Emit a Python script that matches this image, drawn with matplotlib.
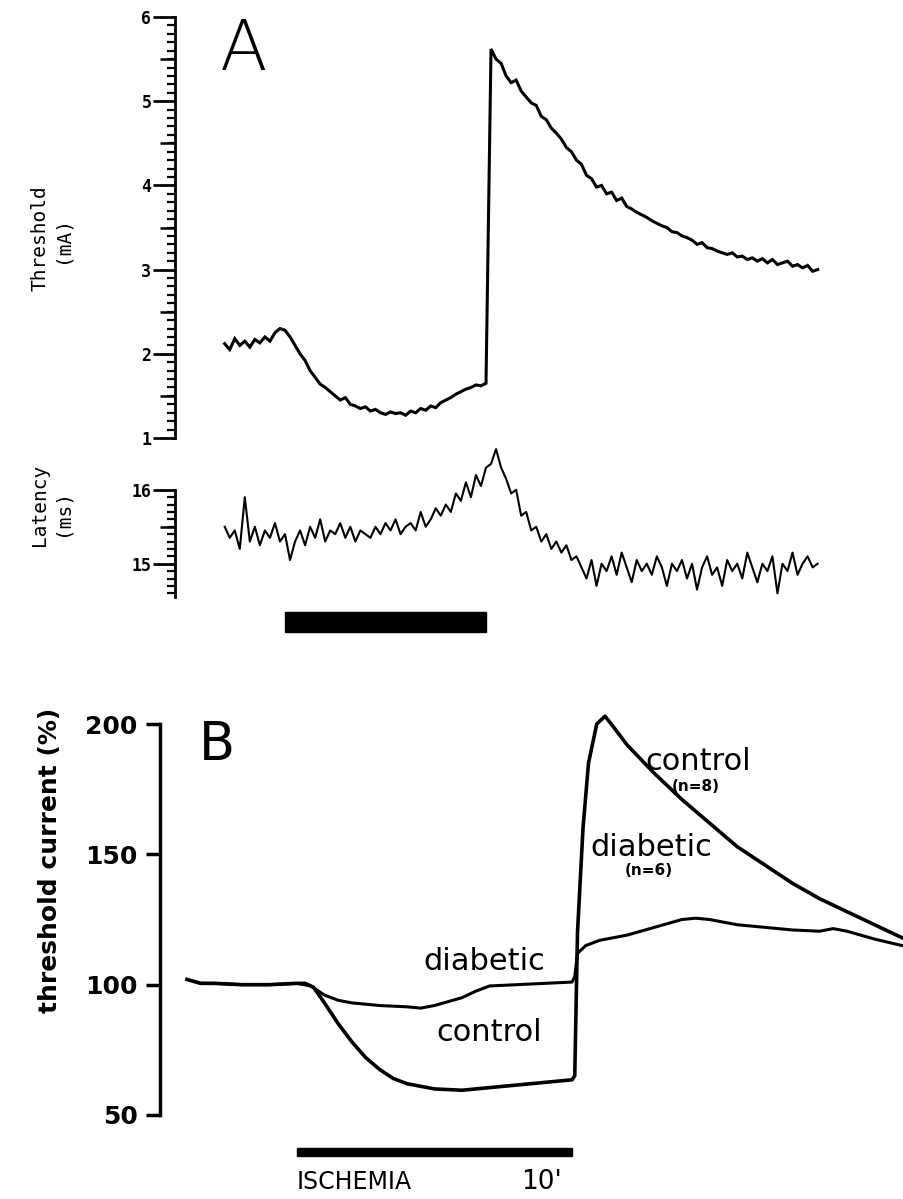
import numpy as np
import matplotlib
matplotlib.use("Agg")
import matplotlib.pyplot as plt
from matplotlib.patches import Rectangle
from matplotlib.ticker import MultipleLocator, FixedLocator

# ---------------- Panel A data (time in min, ischemia 0-10 min) ----------------
threshold_mA = [
    2.12, 2.05, 2.18, 2.10, 2.15, 2.08, 2.17, 2.13, 2.20, 2.15, 2.25, 2.30, 2.28,
    2.20, 2.10, 2.00, 1.92, 1.80, 1.72, 1.64, 1.60,
    1.55, 1.50, 1.45, 1.48, 1.40, 1.38, 1.35, 1.37,
    1.32, 1.34, 1.30, 1.28, 1.31, 1.29, 1.30, 1.27,
    1.32, 1.30, 1.35, 1.33, 1.38, 1.36, 1.42, 1.45,
    1.48, 1.52, 1.55, 1.58, 1.60, 1.63, 1.62, 1.65,
    5.62, 5.50, 5.45, 5.30, 5.22, 5.25, 5.12, 5.05,
    4.98, 4.95, 4.82, 4.78, 4.68, 4.62, 4.55, 4.45,
    4.40, 4.30, 4.25, 4.12, 4.08, 3.98, 4.00, 3.90,
    3.92, 3.82, 3.85, 3.75, 3.72, 3.68, 3.65, 3.62,
    3.58, 3.55, 3.52, 3.50, 3.45, 3.44, 3.40, 3.38,
    3.35, 3.30, 3.32, 3.26, 3.25, 3.22, 3.20, 3.18,
    3.20, 3.15, 3.16, 3.12, 3.14, 3.10, 3.13, 3.08,
    3.12, 3.06, 3.08, 3.10, 3.04, 3.06, 3.02, 3.05,
    2.98, 3.00,
]
latency_ms = [
    15.50, 15.35, 15.45, 15.20, 15.90, 15.30, 15.50, 15.25, 15.45, 15.35, 15.55, 15.30, 15.40,
    15.05, 15.30, 15.45, 15.25, 15.50, 15.35, 15.60, 15.30,
    15.45, 15.40, 15.55, 15.35, 15.50, 15.30, 15.45, 15.40,
    15.35, 15.50, 15.40, 15.55, 15.45, 15.60, 15.40, 15.50,
    15.55, 15.45, 15.70, 15.50, 15.60, 15.75, 15.65, 15.80,
    15.70, 15.95, 15.85, 16.10, 15.90, 16.20, 16.05, 16.30,
    16.35, 16.55, 16.30, 16.15, 15.95, 16.00, 15.65, 15.70,
    15.45, 15.50, 15.30, 15.40, 15.20, 15.30, 15.15, 15.25,
    15.05, 15.10, 14.95, 14.80, 15.05, 14.70, 15.00, 14.90,
    15.10, 14.85, 15.15, 14.95, 14.75, 15.05, 14.90, 15.00,
    14.85, 15.10, 14.95, 14.70, 15.00, 14.90, 15.05, 14.80,
    15.00, 14.65, 14.95, 15.10, 14.85, 14.95, 14.70, 15.05,
    14.90, 15.00, 14.80, 15.15, 14.95, 14.75, 15.00, 14.90,
    15.10, 14.60, 15.00, 14.90, 15.15, 14.85, 15.00, 15.10,
    14.95, 15.00,
]
time_A = np.linspace(-3.0, 26.5, len(threshold_mA))

# ---------------- Panel B data ----------------
time_control = [-4.0, -3.5, -3.0, -2.0, -1.0, 0.0, 0.3, 0.6, 1.0, 1.5, 2.0, 2.5,
                3.0, 3.5, 4.0, 5.0, 6.0, 7.0, 8.0, 9.0, 10.0, 10.1, 10.2, 10.4,
                10.6, 10.9, 11.2, 11.5, 12.0, 13.0, 14.0, 15.0, 16.0, 17.0, 18.0,
                19.0, 20.0, 21.0, 22.0]
control_pct = [102, 100.5, 100.5, 100, 100, 100.5, 100.5, 99, 93, 85, 78, 72,
               67.5, 64, 62, 60, 59.5, 60.5, 61.5, 62.5, 63.5, 65, 120, 160,
               185, 200, 203, 199, 192, 181, 171, 162, 153, 146, 139,
               133, 128, 123, 118]
time_diabetic = [-4.0, -3.5, -3.0, -2.0, -1.0, 0.0, 0.5, 1.0, 1.5, 2.0, 3.0, 4.0,
                 4.5, 5.0, 6.0, 6.5, 7.0, 8.0, 9.0, 10.0, 10.1, 10.2, 10.5, 11.0,
                 12.0, 13.0, 13.5, 14.0, 14.5, 15.0, 16.0, 17.0, 18.0, 19.0, 19.5,
                 20.0, 21.0, 22.0]
diabetic_pct = [102, 100.5, 100.5, 100, 100, 100.5, 99.5, 96, 94, 93, 92, 91.5,
                91, 92, 95, 97.5, 99.5, 100, 100.5, 101, 103, 112, 115, 117,
                119, 122, 123.5, 125, 125.5, 125, 123, 122, 121, 120.5, 121.5,
                120.5, 117.5, 115]
ischemia_min = (0.0, 10.0)

W, H = 904, 1199
fig = plt.figure(figsize=(W / 100, H / 100), dpi=100)

def rect(l, t, r, b):
    return [l / W, 1 - b / H, (r - l) / W, (b - t) / H]

mono = "DejaVu Sans Mono"

# ---------- Panel A: threshold ----------
tA_left = (175 - 285) / 20.1
tA_right = (830 - 285) / 20.1
axT = fig.add_axes(rect(175, 17, 830, 438))
axT.patch.set_alpha(0)
axT.plot(time_A, threshold_mA, color="black", lw=2.2, solid_joinstyle="miter")
axT.set_xlim(tA_left, tA_right)
axT.set_ylim(1, 6)
for s in ["top", "right", "bottom"]:
    axT.spines[s].set_visible(False)
axT.spines["left"].set_linewidth(2)
axT.set_xticks([])
axT.yaxis.set_major_locator(MultipleLocator(1))
axT.yaxis.set_minor_locator(MultipleLocator(0.1))
axT.tick_params(axis="y", which="major", length=16, width=2, direction="out", pad=1,
                labelsize=12)
axT.tick_params(axis="y", which="minor", length=6, width=1.6, direction="out")
for lab in axT.get_yticklabels():
    lab.set_fontfamily(mono)
    lab.set_fontweight("bold")
secT = axT.secondary_yaxis("left")
secT.spines["left"].set_visible(False)
secT.yaxis.set_major_locator(FixedLocator([1.5, 2.5, 3.5, 4.5, 5.5]))
secT.tick_params(axis="y", length=11, width=1.8, labelleft=False)

# ---------- Panel A: latency ----------
axL = fig.add_axes(rect(175, 438, 830, 597))
axL.patch.set_alpha(0)
axL.plot(time_A, latency_ms, color="black", lw=1.5, clip_on=False)
axL.set_xlim(tA_left, tA_right)
axL.set_ylim(14.55, 16.7)
for s in ["top", "right", "bottom"]:
    axL.spines[s].set_visible(False)
axL.spines["left"].set_linewidth(2)
axL.spines["left"].set_bounds(14.55, 16)
axL.set_xticks([])
axL.yaxis.set_major_locator(FixedLocator([15, 16]))
axL.yaxis.set_minor_locator(FixedLocator([v / 10 for v in range(146, 160)]))
axL.tick_params(axis="y", which="major", length=16, width=2, direction="out", pad=1,
                labelsize=12)
axL.tick_params(axis="y", which="minor", length=6, width=1.6, direction="out")
for lab in axL.get_yticklabels():
    lab.set_fontfamily(mono)
    lab.set_fontweight("bold")
secL = axL.secondary_yaxis("left")
secL.spines["left"].set_visible(False)
secL.yaxis.set_major_locator(FixedLocator([15.5]))
secL.tick_params(axis="y", length=11, width=1.8, labelleft=False)
axL.add_patch(Rectangle((ischemia_min[0], 14.08), ischemia_min[1] - ischemia_min[0], 0.27,
                        color="black", clip_on=False))

fig.text(244 / W, 1 - 70 / H, "A", fontsize=50, ha="center", va="baseline",
         fontweight="light")
fig.text(40 / W, 1 - 238 / H, "Threshold", rotation=90, ha="center", va="center",
         fontsize=14, family=mono)
fig.text(62 / W, 1 - 240 / H, "(mA)", rotation=90, ha="center", va="center",
         fontsize=14, family=mono)
fig.text(40 / W, 1 - 505 / H, "Latency", rotation=90, ha="center", va="center",
         fontsize=14, family=mono)
fig.text(62 / W, 1 - 512 / H, "(ms)", rotation=90, ha="center", va="center",
         fontsize=14, family=mono)

# ---------- Panel B ----------
axB = fig.add_axes(rect(160, 724, 904, 1115))
axB.patch.set_alpha(0)
axB.plot(time_control, control_pct, color="black", lw=2.6, clip_on=False)
axB.plot(time_diabetic, diabetic_pct, color="black", lw=2.2, clip_on=False)
axB.set_xlim((160 - 297) / 27.5, (904 - 297) / 27.5)
axB.set_ylim(50, 200)
for s in ["top", "right", "bottom"]:
    axB.spines[s].set_visible(False)
axB.spines["left"].set_linewidth(2.5)
axB.set_xticks([])
axB.set_yticks([50, 100, 150, 200])
axB.tick_params(axis="y", length=10, width=2.5, direction="out", pad=6, labelsize=18)
for lab in axB.get_yticklabels():
    lab.set_fontweight("bold")
axB.add_patch(Rectangle((ischemia_min[0], 34.3), ischemia_min[1] - ischemia_min[0], 3.0,
                        color="black", clip_on=False))
axB.text(0.0, 24.3, "ISCHEMIA", ha="left", va="center", fontsize=17, clip_on=False,
         fontweight="medium")
axB.text(8.9, 24.3, "10'", ha="center", va="center", fontsize=19, clip_on=False,
         fontweight="medium")
txt_kw = dict(ha="center", va="center", fontsize=22, fontweight="medium")
axB.text(6.8, 108.8, "diabetic", **txt_kw)
axB.text(7.0, 81.6, "control", **txt_kw)
axB.text(14.6, 185.5, "control", **txt_kw)
axB.text(14.5, 176.0, "(n=8)", ha="center", va="center", fontsize=11, fontweight="bold")
axB.text(12.9, 152.5, "diabetic", **txt_kw)
axB.text(12.8, 143.7, "(n=6)", ha="center", va="center", fontsize=11, fontweight="bold")

fig.text(217 / W, 1 - 745 / H, "B", fontsize=38, ha="center", va="center",
         fontweight="normal")
fig.text(50 / W, 1 - 860 / H, "threshold current (%)", rotation=90, ha="center",
         va="center", fontsize=18, fontweight="bold")

fig.savefig("out.png", dpi=100)
